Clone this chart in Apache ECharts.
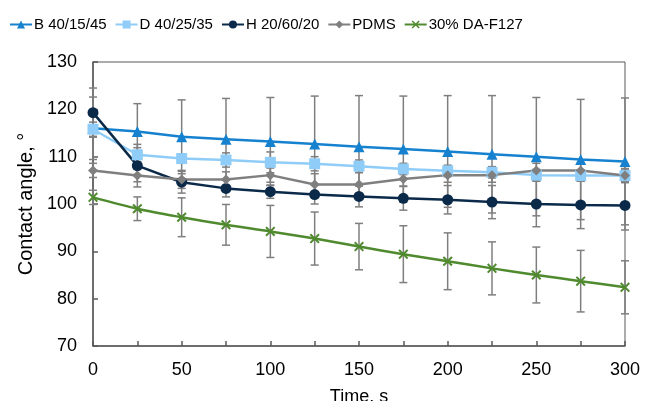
<!DOCTYPE html>
<html>
<head>
<meta charset="utf-8">
<script src="https://cdn.jsdelivr.net/npm/echarts@6/dist/echarts.min.js"></script>
<style>html,body{margin:0;padding:0;background:#fff}#c{width:651px;height:401px}</style>
</head>
<body>
<div id="c"></div>
<script>
const times = [0, 25, 50, 75, 100, 125, 150, 175, 200, 225, 250, 275, 300];
const seriesNames = ['B 40/15/45', 'D 40/25/35', 'H 20/60/20', 'PDMS', '30% DA-F127'];
const bVals = [116.0, 115.3, 114.2, 113.7, 113.2, 112.7, 112.1, 111.6, 111.1, 110.5, 110.0, 109.4, 109.0];
const dVals = [115.8, 110.4, 109.6, 109.3, 108.8, 108.5, 108.0, 107.4, 107.0, 106.7, 106.1, 106.0, 106.0];
const hVals = [119.3, 108.1, 104.6, 103.3, 102.6, 102.0, 101.6, 101.2, 100.9, 100.4, 100.0, 99.8, 99.7];
const pVals = [107.1, 106.0, 105.2, 105.2, 106.1, 104.1, 104.1, 105.3, 106.1, 106.1, 107.1, 107.1, 106.0];
const fVals = [101.4, 99.0, 97.2, 95.6, 94.2, 92.7, 91.0, 89.4, 87.9, 86.4, 85.0, 83.7, 82.4];
const bErr = [6.6, 5.9, 7.8, 8.6, 9.3, 10.1, 10.8, 11.2, 11.8, 12.4, 12.5, 12.7, 13.4];
const dErr = [1.5, 1.5, 1.0, 1.5, 2.2, 1.5, 1.3, 1.2, 1.2, 1.2, 1.2, 1.2, 1.2];
const hErr = [5.2, 4.5, 2.3, 1.8, 1.4, 2.0, 2.2, 2.5, 3.0, 3.5, 4.8, 5.0, 5.2];
const pErr = [1.5, 1.3, 1.9, 1.6, 1.5, 2.3, 2.5, 1.5, 1.5, 1.5, 1.5, 1.5, 1.5];
const fErr = [1.5, 2.5, 4.1, 4.3, 5.5, 5.6, 4.9, 6.0, 6.0, 5.6, 5.9, 6.5, 5.6];

const colors = ['#1682cf', '#8fcdf8', '#0b2a4a', '#7f7f7f', '#4f8a2e'];
const symbols = ['triangle', 'rect', 'circle', 'diamond',
  'path://M0,1.4L1.4,0L5,3.6L8.6,0L10,1.4L6.4,5L10,8.6L8.6,10L5,6.4L1.4,10L0,8.6L3.6,5Z'];
const symSizes = [11, 11, 11, 10, 10];
const valsList = [bVals, dVals, hVals, pVals, fVals];
const errList = [bErr, dErr, hErr, pErr, fErr];

function errRender(params, api) {
  const x = api.value(0), y = api.value(1), e = api.value(2);
  const top = api.coord([x, y + e]);
  const bot = api.coord([x, y - e]);
  const w = 4;
  const st = { stroke: '#7f7f7f', lineWidth: 1.5 };
  return {
    type: 'group',
    children: [
      { type: 'line', shape: { x1: top[0], y1: top[1], x2: bot[0], y2: bot[1] }, style: st },
      { type: 'line', shape: { x1: top[0] - w, y1: top[1], x2: top[0] + w, y2: top[1] }, style: st },
      { type: 'line', shape: { x1: bot[0] - w, y1: bot[1], x2: bot[0] + w, y2: bot[1] }, style: st }
    ]
  };
}

const series = [];
valsList.forEach((vals, i) => {
  series.push({
    type: 'custom',
    name: seriesNames[i] + ' err',
    renderItem: errRender,
    data: times.map((t, k) => [t, vals[k], errList[i][k]]),
    z: 1,
    silent: true,
    clip: false
  });
});
valsList.forEach((vals, i) => {
  series.push({
    type: 'line',
    name: seriesNames[i],
    data: times.map((t, k) => [t, vals[k]]),
    symbol: symbols[i],
    symbolSize: symSizes[i],
    smooth: i === 4 ? 0.3 : false,
    lineStyle: { color: colors[i], width: 2.5 },
    itemStyle: { color: colors[i] },
    z: 3
  });
});

const chart = echarts.init(document.getElementById('c'), null, { renderer: 'canvas' });
chart.setOption({
  animation: false,
  backgroundColor: '#ffffff',
  textStyle: { fontFamily: 'Liberation Sans, Arial, sans-serif' },
  legend: {
    data: seriesNames,
    top: 12,
    left: 4,
    itemWidth: 22,
    itemHeight: 10,
    itemGap: 8,
    textStyle: { fontSize: 15, color: '#000', padding: [0, 0, 0, -3] }
  },
  grid: {
    left: 93, right: 26, top: 62, bottom: 55,
    outerBoundsMode: 'none',
    containLabel: false,
    show: true, borderColor: '#595959', borderWidth: 1
  },
  xAxis: {
    type: 'value', min: 0, max: 300, interval: 25,
    name: 'Time, s', nameLocation: 'middle', nameGap: 42,
    nameTextStyle: { fontSize: 18, color: '#000' },
    axisLine: { show: true, lineStyle: { color: '#595959', width: 1.5 } },
    axisTick: { show: true, inside: true, length: 5, lineStyle: { color: '#595959', width: 1.5 } },
    axisLabel: { fontSize: 18, color: '#000', margin: 15,
      formatter: v => (v % 50 === 0 ? String(v) : '') },
    splitLine: { show: false }
  },
  yAxis: {
    type: 'value', min: 70, max: 130, interval: 10,
    name: 'Contact angle, °', nameLocation: 'middle', nameGap: 44, nameRotate: 90,
    nameTextStyle: { fontSize: 20, color: '#000' },
    axisLine: { show: true, lineStyle: { color: '#595959', width: 1.5 } },
    axisTick: { show: true, inside: true, length: 5, lineStyle: { color: '#595959', width: 1.5 } },
    axisLabel: { fontSize: 18, color: '#000', margin: 16 },
    splitLine: { show: false }
  },
  series: series
});
</script>
</body>
</html>
